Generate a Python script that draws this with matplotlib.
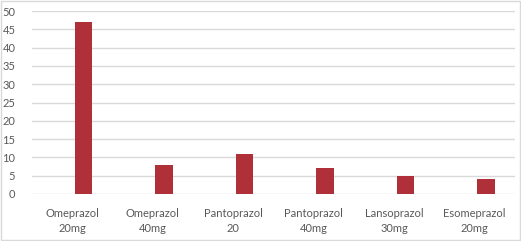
import matplotlib
matplotlib.use("Agg")
import matplotlib.pyplot as plt
from matplotlib.patches import Rectangle

categories = ["Omeprazol\n20mg", "Omeprazol\n40mg", "Pantoprazol\n20", "Pantoprazol\n40mg",
              "Lansoprazol\n30mg", "Esomeprazol\n20mg"]
values = [47, 8, 11, 7, 5, 4]
yticks = [0, 5, 10, 15, 20, 25, 30, 35, 40, 45, 50]

plt.rcParams['font.family'] = ['Lato', 'DejaVu Sans']

fig = plt.figure(figsize=(5.21, 2.41), dpi=100)
ax = fig.add_axes([32 / 521, 1 - 194 / 241, 483 / 521, 183 / 241])

x = list(range(len(categories)))
ax.bar([i + 0.14 for i in x], values, width=0.22, color='#B0303A', zorder=3)

ax.set_xlim(-0.5, len(categories) - 0.5)
ax.set_ylim(0, 50)
ax.set_yticks(yticks)
ax.set_xticks(x)
ax.set_xticklabels(categories, fontsize=8, color='#595959', linespacing=1.5)
ax.tick_params(axis='y', labelsize=8, labelcolor='#595959', length=0, pad=12)
ax.tick_params(axis='x', length=0, pad=10)
ax.grid(axis='y', color='#D9D9D9', linewidth=1, zorder=0)
for s in ax.spines.values():
    s.set_visible(False)

fig.patches.append(Rectangle((0.002, 0.004), 0.996, 0.99, transform=fig.transFigure,
                             fill=False, edgecolor='#D9D9D9', linewidth=1))

fig.savefig("out.png", dpi=100)
